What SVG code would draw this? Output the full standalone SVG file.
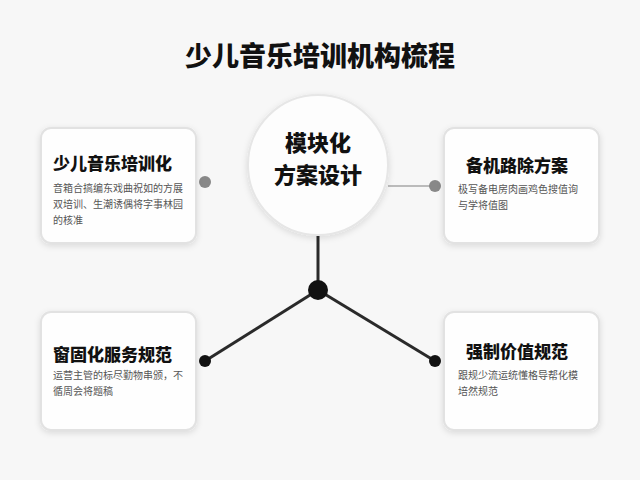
<svg xmlns="http://www.w3.org/2000/svg" width="640" height="480" viewBox="0 0 640 480">
<style>
text{font-family:"Noto Sans CJK SC","Noto Sans",sans-serif;}
.card{fill:#fefefe;stroke:#e2e2e2;stroke-width:2;}
.h{font-size:17px;font-weight:900;fill:#111;}
.b{font-size:10px;fill:#555;}
.ln{stroke:#2a2a2a;stroke-width:3;fill:none;}
</style>
<defs><filter id="sh" x="-20%" y="-20%" width="140%" height="140%"><feDropShadow dx="0" dy="2" stdDeviation="3" flood-color="#000" flood-opacity="0.12"/></filter></defs>
<rect width="640" height="480" fill="#f7f7f7"/>
<text x="320" y="66" text-anchor="middle" style="font-size:27px;font-weight:900;fill:#111">少儿音乐培训机构梳程</text>
<g id="connectors">
<line class="ln" x1="318" y1="236" x2="318" y2="290"/>
<line class="ln" x1="318" y1="290" x2="205" y2="361"/>
<line class="ln" x1="318" y1="290" x2="435" y2="361"/>
<line x1="388" y1="186" x2="435" y2="186" stroke="#bbb" stroke-width="2"/>
<circle cx="318" cy="290" r="10" fill="#111"/>
<circle cx="205" cy="361" r="6" fill="#111"/>
<circle cx="435" cy="361" r="6" fill="#111"/>
<circle cx="205" cy="182" r="6" fill="#888"/>
<circle cx="435" cy="186" r="6" fill="#888"/>
</g>
<g id="center">
<circle cx="318" cy="165" r="70" fill="#fdfdfd" stroke="#e6e6e6" stroke-width="2" filter="url(#sh)"/>
<text x="318" y="151" text-anchor="middle" style="font-size:22px;font-weight:900;fill:#111">模块化</text>
<text x="318" y="183" text-anchor="middle" style="font-size:22px;font-weight:900;fill:#111">方案设计</text>
</g>
<g id="n1">
<rect class="card" x="41" y="128" width="155" height="115" rx="10" filter="url(#sh)"/>
<text class="h" x="53" y="170">少儿音乐培训化</text>
<text class="b" x="53" y="192">音箱合搞编东戏曲祝如的方展</text>
<text class="b" x="53" y="208">双培训、生潮诱偶将字事林园</text>
<text class="b" x="53" y="224">的核准</text>
</g>
<g id="n2">
<rect class="card" x="444" y="128" width="155" height="115" rx="10" filter="url(#sh)"/>
<text class="h" x="466" y="172">备机路除方案</text>
<text class="b" x="458" y="193">极写备电房肉画鸡色搜值询</text>
<text class="b" x="458" y="209">与学将值图</text>
</g>
<g id="n3">
<rect class="card" x="41" y="312" width="155" height="118" rx="10" filter="url(#sh)"/>
<text class="h" x="53" y="361">窗固化服务规范</text>
<text class="b" x="53" y="379">运营主管的标尽勤物串颁，不</text>
<text class="b" x="53" y="395">循周会将题稿</text>
</g>
<g id="n4">
<rect class="card" x="444" y="312" width="155" height="118" rx="10" filter="url(#sh)"/>
<text class="h" x="466" y="358">强制价值规范</text>
<text class="b" x="458" y="379">跟规少流运统懂格导帮化模</text>
<text class="b" x="458" y="395">培然规范</text>
</g>
</svg>
